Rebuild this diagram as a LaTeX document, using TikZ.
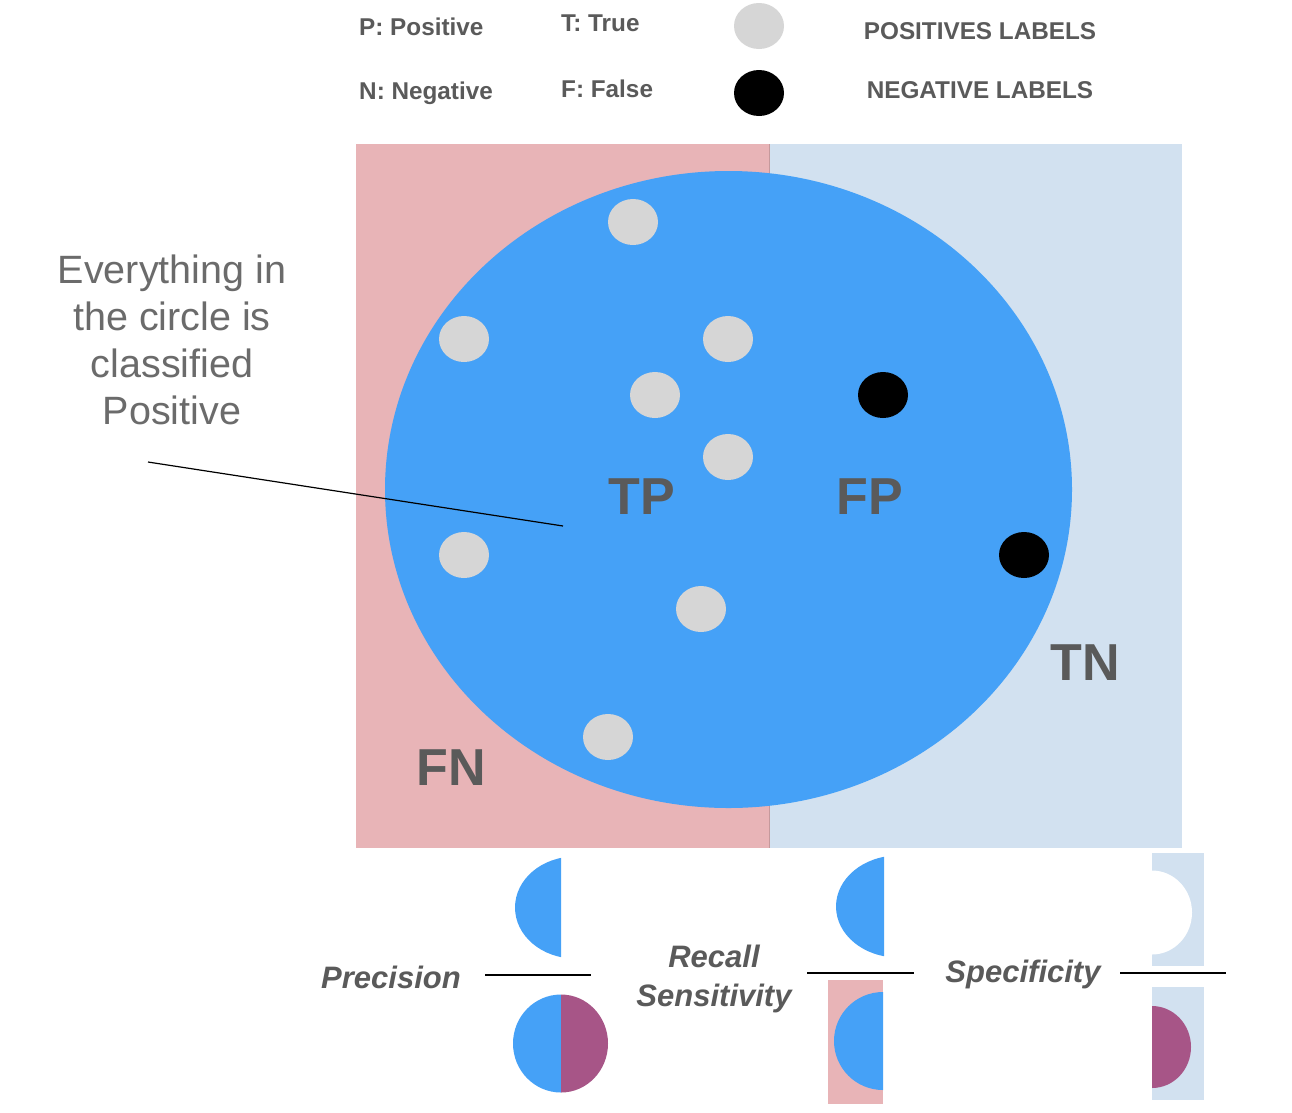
\documentclass[tikz,border=0pt]{standalone}
\usepackage{fontspec}
\setmainfont{Liberation Sans}
\definecolor{txtgray}{HTML}{5A5A5A}
\definecolor{cblue}{HTML}{45A1F7}
\definecolor{cpink}{HTML}{E8B4B7}
\definecolor{clight}{HTML}{D2E1F0}
\definecolor{cdot}{HTML}{D6D6D6}
\definecolor{cpurple}{HTML}{A75587}
\begin{document}
\begin{tikzpicture}[x=1pt,y=-1pt,
  legend/.style={font=\fontsize{24.3}{29}\selectfont\bfseries, text=txtgray, inner sep=0pt},
  big/.style={font=\fontsize{52}{60}\selectfont\bfseries, text=txtgray, inner sep=0pt},
  metric/.style={font=\fontsize{31}{39}\selectfont\bfseries\itshape, text=txtgray, inner sep=0pt, align=center},
  fracline/.style={line width=2pt, black}]
\useasboundingbox (0,0) rectangle (1292,1112);
\fill[white] (0,0) rectangle (1292,1112);
% legend
\node[legend, anchor=west] (lp) at (359,27) {P: Positive};
\node[legend, anchor=west] (ln) at (359,93) {N: Negative};
\node[legend, anchor=west] (lt) at (561,23) {T: True};
\node[legend, anchor=west] (lf) at (561,89) {F: False};
\fill[cdot] (759,26) ellipse [x radius=25, y radius=23];
\fill[black] (759,93) ellipse [x radius=25, y radius=23];
\node[legend] (lpos) at (980,31) {POSITIVES LABELS};
\node[legend] (lneg) at (980,90) {NEGATIVE LABELS};
% regions
\fill[cpink] (356,144) rectangle (769,848);
\fill[clight] (769,144) rectangle (1182,848);
\draw[line width=1pt, draw=cpink!85!black] (769,144) -- (769,848);
\fill[cblue] (728.5,489.5) ellipse [x radius=343.5, y radius=318.5];
% dots
\foreach \x/\y in {633/222, 464/339, 728/339, 655/395, 728/457, 464/555, 701/609, 608/737}
  \fill[cdot] (\x,\y) ellipse [x radius=25, y radius=23];
\foreach \x/\y in {883/395, 1024/555}
  \fill[black] (\x,\y) ellipse [x radius=25, y radius=23];
% labels
\node[big] (tp) at (642,497) {TP};
\node[big] (fp) at (870,497) {FP};
\node[big] (tn) at (1085,663) {TN};
\node[big] (fn) at (451,768) {FN};
\node[font=\fontsize{39.5}{47}\selectfont, text=txtgray!90!white, align=center, inner sep=0pt] (note) at (172,339.5)
  {Everything in\\the circle is\\classified\\Positive};
\coordinate (lineA) at (148,462);
\coordinate (lineB) at (563,526);
\draw[line width=1.2pt, black] (lineA) -- (lineB);
% Precision
\node[metric] (prec) at (391,977) {Precision};
\coordinate (pl1) at (485,975); \coordinate (pl2) at (591,975);
\draw[fracline] (pl1) -- (pl2);
\begin{scope}
  \clip (400,850) rectangle (561,965);
  \fill[cblue] (575,907.5) ellipse [x radius=60, y radius=51];
\end{scope}
\begin{scope}
  \clip (400,990) rectangle (561,1100);
  \fill[cblue] (561,1043.5) ellipse [x radius=48, y radius=49];
\end{scope}
\begin{scope}
  \clip (561,990) rectangle (700,1100);
  \fill[cpurple] (561,1043.5) ellipse [x radius=47, y radius=49];
\end{scope}
% Recall
\node[metric] (rec) at (714,979) {Recall\\Sensitivity};
\coordinate (rl1) at (807,973); \coordinate (rl2) at (914,973);
\draw[fracline] (rl1) -- (rl2);
\begin{scope}
  \clip (780,850) rectangle (884,965);
  \fill[cblue] (898,906.5) ellipse [x radius=62, y radius=51];
\end{scope}
\fill[cpink] (828,980) rectangle (883,1104);
\begin{scope}
  \clip (800,980) rectangle (883,1104);
  \fill[cblue] (883,1041) ellipse [x radius=49, y radius=49];
\end{scope}
% Specificity
\node[metric] (spec) at (1023,974) {Specificity};
\coordinate (sl1) at (1120,973); \coordinate (sl2) at (1226,973);
\draw[fracline] (sl1) -- (sl2);
\fill[clight] (1152,853) rectangle (1204,966);
\begin{scope}
  \clip (1152,853) rectangle (1204,966);
  \fill[white] (1152,912.5) ellipse [x radius=40, y radius=42];
\end{scope}
\fill[clight] (1152,987) rectangle (1204,1100);
\begin{scope}
  \clip (1152,987) rectangle (1204,1100);
  \fill[cpurple] (1152,1047) ellipse [x radius=39, y radius=41];
\end{scope}
\end{tikzpicture}
\end{document}
